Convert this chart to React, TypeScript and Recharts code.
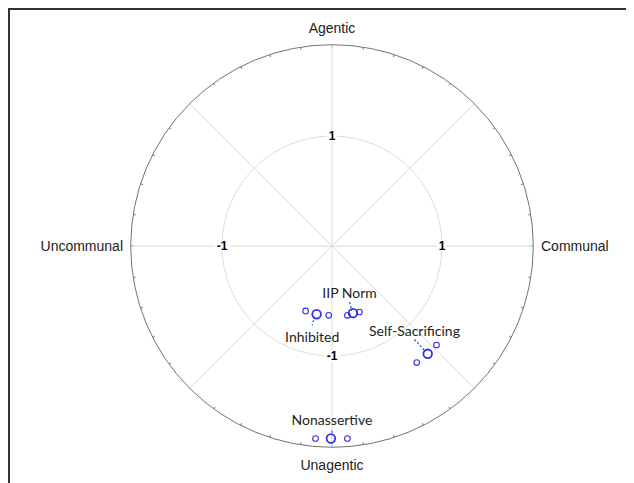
import React from "react";
import { ScatterChart, Scatter, XAxis, YAxis, ReferenceArea, ReferenceLine } from "recharts";

// ---- data ----
const groupNames = ["IIP Norm", "Inhibited", "Self-Sacrificing", "Nonassertive"];
const meanX = [0.19, -0.14, 0.87, -0.01];
const meanY = [-0.61, -0.62, -0.98, -1.75];
const sideAX = [0.14, -0.24, 0.95, -0.15];
const sideAY = [-0.63, -0.59, -0.9, -1.75];
const sideBX = [0.25, -0.03, 0.77, 0.14];
const sideBY = [-0.6, -0.63, -1.06, -1.75];
const labelX = [0.16, -0.18, 0.75, 0.0];
const labelY = [-0.42, -0.82, -0.77, -1.58];
const leaderFromX = [0.16, -0.16, 0.75, 0.0];
const leaderFromY = [-0.51, -0.64, -0.85, -1.68];
const leaderToX = [0.18, -0.18, 0.85, 0.0];
const leaderToY = [-0.59, -0.72, -0.96, -1.72];

const axisNames = ["Agentic", "Communal", "Unagentic", "Uncommunal"];
const axisNameX = [0, 1.9, 0, -1.9];
const axisNameY = [1.98, 0, -1.99, 0];
const axisAnchor = ["middle", "start", "middle", "end"];

const tickLabels = ["1", "1", "-1", "-1"];
const tickX = [0, 1, 0, -1];
const tickY = [1, 0, -1, 0];

const innerRadius = 1;
const outerRadius = 1.83;
const spokeAngles = [0, 45, 90, 135, 180, 225, 270, 315];
const outerTickStep = 9;

// ---- layout ----
const CHART_W = 624;
const CHART_H = 473;
const CENTER_PX_X = 322;
const CENTER_PX_Y = 236;
const PX_PER_UNIT = 110;
const xDomain = [-CENTER_PX_X / PX_PER_UNIT, (CHART_W - CENTER_PX_X) / PX_PER_UNIT];
const yDomain = [-(CHART_H - CENTER_PX_Y) / PX_PER_UNIT, CENTER_PX_Y / PX_PER_UNIT];

// ---- styling ----
const BLUE = "#2f2ff0";
const GRID = "#dcdcdc";
const OUTER = "#737373";

const meanData = groupNames.map((n, i) => ({ x: meanX[i], y: meanY[i], name: n }));
const sideData = groupNames.flatMap((n, i) => [
  { x: sideAX[i], y: sideAY[i], name: n },
  { x: sideBX[i], y: sideBY[i], name: n },
]);
const labelData = groupNames.map((n, i) => ({ x: labelX[i], y: labelY[i], name: n }));
const axisNameData = axisNames.map((n, i) => ({ x: axisNameX[i], y: axisNameY[i], name: n, anchor: axisAnchor[i] }));
const tickData = tickLabels.map((t, i) => ({ x: tickX[i], y: tickY[i], name: t }));

const innerCircleShape = (p: any) => {
  const cx = p.x + p.width / 2;
  const cy = p.y + p.height / 2;
  const r = Math.abs(p.width) / 2;
  return <circle cx={cx} cy={cy} r={r} fill="none" stroke={GRID} strokeWidth={1} />;
};

const outerCircleShape = (p: any) => {
  const cx = p.x + p.width / 2;
  const cy = p.y + p.height / 2;
  const r = Math.abs(p.width) / 2;
  const ticks = [];
  for (let a = 0; a < 360; a += outerTickStep) {
    const t = (a * Math.PI) / 180;
    ticks.push(
      <line
        key={a}
        x1={cx + (r - 2.5) * Math.cos(t)}
        y1={cy - (r - 2.5) * Math.sin(t)}
        x2={cx + r * Math.cos(t)}
        y2={cy - r * Math.sin(t)}
        stroke={OUTER}
        strokeWidth={1}
      />
    );
  }
  return (
    <g>
      <circle cx={cx} cy={cy} r={r} fill="none" stroke={OUTER} strokeWidth={1} />
      {ticks}
    </g>
  );
};

const meanShape = (p: any) => (
  <circle cx={p.cx} cy={p.cy} r={4.3} fill="none" stroke={BLUE} strokeWidth={1.8} />
);
const sideShape = (p: any) => (
  <circle cx={p.cx} cy={p.cy} r={2.8} fill="none" stroke={BLUE} strokeWidth={1.1} />
);
const labelShape = (p: any) => (
  <text
    x={p.cx}
    y={p.cy}
    textAnchor="middle"
    dominantBaseline="central"
    fontFamily="Lato, 'Open Sans', sans-serif"
    fontSize={14}
    fill="#1e1e1e"
  >
    {p.payload.name}
  </text>
);
const axisNameShape = (p: any) => (
  <text
    x={p.cx}
    y={p.cy}
    textAnchor={p.payload.anchor}
    dominantBaseline="central"
    fontFamily="'Liberation Sans', Arial, sans-serif"
    fontSize={14}
    fill="#222"
  >
    {p.payload.name}
  </text>
);
const tickShape = (p: any) => {
  const w = p.payload.name.length > 1 ? 16 : 10;
  return (
    <g>
      <rect x={p.cx - w / 2} y={p.cy - 6} width={w} height={12} fill="#fff" />
      <text
        x={p.cx}
        y={p.cy}
        textAnchor="middle"
        dominantBaseline="central"
        fontFamily="'Liberation Sans', Arial, sans-serif"
        fontSize={12}
        fontWeight="bold"
        fill="#000000"
        stroke="none"
      >
        {p.payload.name}
      </text>
    </g>
  );
};

export default function App() {
  return (
    <div
      style={{
        width: 626,
        height: 475,
        boxSizing: "border-box",
        borderTop: "2px solid #333",
        borderLeft: "2px solid #333",
        background: "#fff",
      }}
    >
      <ScatterChart width={CHART_W} height={CHART_H} margin={{ top: 0, right: 0, bottom: 0, left: 0 }}>
        <XAxis type="number" dataKey="x" domain={xDomain} allowDataOverflow hide />
        <YAxis type="number" dataKey="y" domain={yDomain} allowDataOverflow hide />
        {spokeAngles.map((a) => {
          const t = (a * Math.PI) / 180;
          return (
            <ReferenceLine
              key={a}
              segment={[
                { x: 0, y: 0 },
                { x: outerRadius * Math.cos(t), y: outerRadius * Math.sin(t) },
              ]}
              stroke={GRID}
              strokeWidth={1}
            />
          );
        })}
        <ReferenceArea
          x1={-innerRadius}
          x2={innerRadius}
          y1={-innerRadius}
          y2={innerRadius}
          shape={innerCircleShape}
        />
        <ReferenceArea
          x1={-outerRadius}
          x2={outerRadius}
          y1={-outerRadius}
          y2={outerRadius}
          shape={outerCircleShape}
        />
        {groupNames.map((n, i) => (
          <ReferenceLine
            key={n}
            segment={[
              { x: leaderFromX[i], y: leaderFromY[i] },
              { x: leaderToX[i], y: leaderToY[i] },
            ]}
            stroke={BLUE}
            strokeWidth={1.2}
            strokeDasharray="2 2"
          />
        ))}
        <Scatter data={tickData} shape={tickShape} fill="#000" isAnimationActive={false} />
        <Scatter data={axisNameData} shape={axisNameShape} isAnimationActive={false} />
        <Scatter data={sideData} shape={sideShape} isAnimationActive={false} />
        <Scatter data={meanData} shape={meanShape} isAnimationActive={false} />
        <Scatter data={labelData} shape={labelShape} isAnimationActive={false} />
      </ScatterChart>
    </div>
  );
}
